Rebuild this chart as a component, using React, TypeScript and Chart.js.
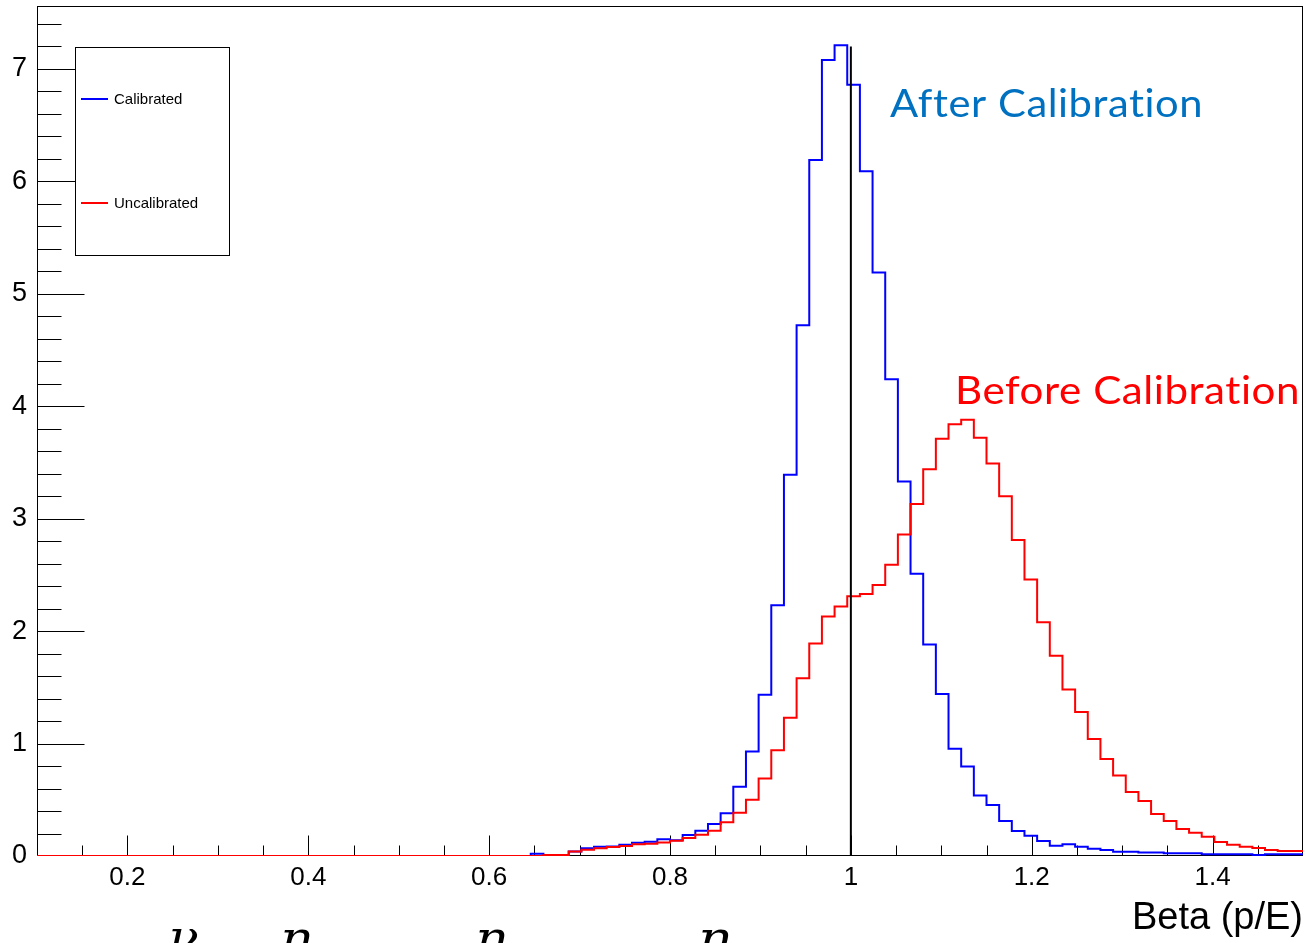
import React, { useEffect, useRef } from 'react';
import { Chart, registerables } from 'chart.js';

Chart.register(...registerables);

// Histogram binning (0.1 .. 1.5, 100 bins)
const X_MIN = 0.1;
const X_MAX = 1.5;
const N_BINS = 100;
const Y_MAX = 7.56;

const xTickLabels = [0.2, 0.4, 0.6, 0.8, 1.0, 1.2, 1.4];
const yTickLabels = [0, 1, 2, 3, 4, 5, 6, 7];

// Bin contents
const calibrated = [
  0, 0, 0, 0, 0, 0, 0, 0, 0, 0,
  0, 0, 0, 0, 0, 0, 0, 0, 0, 0,
  0, 0, 0, 0, 0, 0, 0, 0, 0, 0,
  0, 0, 0, 0, 0, 0, 0, 0, 0, 0.02,
  0.01, 0.01, 0.04, 0.07, 0.083, 0.085, 0.10, 0.118, 0.127, 0.15,
  0.14, 0.187, 0.225, 0.285, 0.38, 0.617, 0.93, 1.435, 2.23, 3.39,
  4.72, 6.19, 7.08, 7.21, 6.86, 6.09, 5.19, 4.24, 3.33, 2.51,
  1.88, 1.44, 0.955, 0.795, 0.537, 0.454, 0.311, 0.222, 0.18, 0.133,
  0.092, 0.104, 0.083, 0.065, 0.053, 0.038, 0.038, 0.032, 0.032, 0.024,
  0.024, 0.024, 0.015, 0.015, 0.015, 0.015, 0.009, 0.015, 0.015, 0.015,
];

const uncalibrated = [
  0, 0, 0, 0, 0, 0, 0, 0, 0, 0,
  0, 0, 0, 0, 0, 0, 0, 0, 0, 0,
  0, 0, 0, 0, 0, 0, 0, 0, 0, 0,
  0, 0, 0, 0, 0, 0, 0, 0, 0, 0,
  0.01, 0.01, 0.04, 0.055, 0.07, 0.08, 0.09, 0.105, 0.11, 0.12,
  0.135, 0.16, 0.19, 0.225, 0.30, 0.385, 0.50, 0.69, 0.94, 1.23,
  1.58, 1.89, 2.13, 2.22, 2.31, 2.33, 2.41, 2.59, 2.86, 3.13,
  3.44, 3.71, 3.84, 3.88, 3.72, 3.49, 3.20, 2.81, 2.46, 2.08,
  1.78, 1.48, 1.28, 1.04, 0.863, 0.715, 0.57, 0.49, 0.374, 0.311,
  0.24, 0.207, 0.172, 0.125, 0.10, 0.083, 0.071, 0.053, 0.044, 0.044,
];

const referenceX = [1.0, 1.0];
const referenceY = [0, 7.2];

const seriesLabels = ['Calibrated', 'Uncalibrated'];
const seriesColors = ['#0000ff', '#ff0000'];

const annotations = [
  { text: 'After Calibration', color: '#0070c0', x: 890, baseline: 117, width: 313 },
  { text: 'Before Calibration', color: '#ff0000', x: 955, baseline: 404, width: 345 },
];

const cutGlyphs = [
  { text: 'ν', x: 172, width: 26 },
  { text: 'η', x: 283, width: 27 },
  { text: 'η', x: 478, width: 27 },
  { text: 'η', x: 701, width: 28 },
];

const binEdges = Array.from({ length: N_BINS + 1 }, (_, i) =>
  +(X_MIN + (i * (X_MAX - X_MIN)) / N_BINS).toFixed(4)
);

function histPoints(values: number[]) {
  const pts = values.map((v, i) => ({ x: binEdges[i], y: v }));
  pts.push({ x: binEdges[N_BINS], y: values[values.length - 1] });
  return pts;
}

const decor = {
  id: 'decor',
  beforeDatasetsDraw(chart: any) {
    const { ctx, chartArea } = chart;
    const xs = chart.scales.x;
    const ys = chart.scales.y;
    ctx.save();
    ctx.strokeStyle = '#000';
    ctx.lineWidth = 1;
    const l = Math.round(chartArea.left) + 0.5;
    const t = Math.round(chartArea.top) + 0.5;
    const r = Math.round(chartArea.right) - 0.5;
    const b = Math.round(chartArea.bottom) - 0.5;
    ctx.strokeRect(l, t, r - l, b - t);
    // y ticks (inside, pointing right)
    for (let i = 1; i * 0.2 <= Y_MAX; i++) {
      const v = i * 0.2;
      const major = Math.abs(v - Math.round(v)) < 1e-6;
      const py = Math.round(ys.getPixelForValue(v)) + 0.5;
      ctx.beginPath();
      ctx.moveTo(l, py);
      ctx.lineTo(l + (major ? 47 : 24), py);
      ctx.stroke();
    }
    // x ticks (inside, pointing up)
    for (let i = 3; i * 0.05 < X_MAX - 1e-6; i++) {
      const v = i * 0.05;
      const major = Math.abs(v * 5 - Math.round(v * 5)) < 1e-6;
      const px = Math.round(xs.getPixelForValue(v)) + 0.5;
      ctx.beginPath();
      ctx.moveTo(px, b);
      ctx.lineTo(px, b - (major ? 20 : 10));
      ctx.stroke();
    }
    ctx.restore();
  },
  afterDraw(chart: any) {
    const { ctx } = chart;
    ctx.save();
    // legend box
    ctx.strokeStyle = '#000';
    ctx.lineWidth = 1;
    ctx.fillStyle = '#fff';
    ctx.fillRect(75.5, 47.5, 154, 208);
    ctx.strokeRect(75.5, 47.5, 154, 208);
    const rows = [99, 203];
    ctx.font = '15px "Liberation Sans", Arial, sans-serif';
    ctx.textBaseline = 'middle';
    ctx.textAlign = 'left';
    chart.data.datasets.slice(0, 2).forEach((ds: any, i: number) => {
      ctx.strokeStyle = ds.borderColor;
      ctx.lineWidth = 2;
      ctx.beginPath();
      ctx.moveTo(81, rows[i]);
      ctx.lineTo(108, rows[i]);
      ctx.stroke();
      ctx.fillStyle = '#000';
      ctx.fillText(ds.label, 114, rows[i] + 1);
    });
    // annotation texts
    ctx.textBaseline = 'alphabetic';
    annotations.forEach((a) => {
      ctx.font = '38px Lato, "Open Sans", sans-serif';
      try { (ctx as any).letterSpacing = '0.5px'; } catch (e) { /* ignore */ }
      const w = ctx.measureText(a.text).width;
      ctx.save();
      ctx.translate(a.x, a.baseline);
      ctx.scale(a.width / w, 1);
      ctx.fillStyle = a.color;
      ctx.fillText(a.text, 0, 0);
      ctx.restore();
    });
    try { (ctx as any).letterSpacing = '0px'; } catch (e) { /* ignore */ }
    // cut-off glyphs at the bottom edge
    cutGlyphs.forEach((g) => {
      ctx.font = 'italic 44px "DejaVu Serif", serif';
      const m = ctx.measureText(g.text);
      const w = m.actualBoundingBoxLeft + m.actualBoundingBoxRight;
      const asc = m.actualBoundingBoxAscent;
      ctx.save();
      ctx.translate(g.x, 929 + asc);
      ctx.scale(g.width / w, 1);
      ctx.fillStyle = '#000';
      ctx.fillText(g.text, m.actualBoundingBoxLeft, 0);
      ctx.restore();
    });
    ctx.restore();
  },
};

export default function App() {
  const ref = useRef<HTMLCanvasElement | null>(null);
  useEffect(() => {
    if (!ref.current) return;
    const chart = new Chart(ref.current, {
      type: 'line',
      data: {
        datasets: [
          {
            label: seriesLabels[0],
            data: histPoints(calibrated),
            borderColor: seriesColors[0],
            backgroundColor: seriesColors[0],
            borderWidth: 2,
            pointRadius: 0,
            stepped: 'before',
            fill: false,
            order: 2,
          },
          {
            label: seriesLabels[1],
            data: histPoints(uncalibrated),
            borderColor: seriesColors[1],
            backgroundColor: seriesColors[1],
            borderWidth: 2,
            pointRadius: 0,
            stepped: 'before',
            fill: false,
            order: 1,
          },
          {
            label: 'reference',
            data: referenceX.map((x, i) => ({ x, y: referenceY[i] })),
            borderColor: '#000',
            borderWidth: 2,
            pointRadius: 0,
            fill: false,
            order: 0,
          },
        ],
      },
      options: {
        responsive: false,
        animation: false,
        devicePixelRatio: 1,
        layout: { padding: { top: 6, right: 3, left: 0, bottom: 0 } },
        plugins: { legend: { display: false }, tooltip: { enabled: false } },
        scales: {
          x: {
            type: 'linear',
            min: X_MIN,
            max: X_MAX,
            grid: { display: false, drawTicks: false },
            border: { display: false },
            afterBuildTicks: (s: any) => {
              s.ticks = xTickLabels.map((v) => ({ value: v }));
            },
            afterFit: (s: any) => {
              s.height = 87;
              s.paddingLeft = 0;
              s.paddingRight = 0;
            },
            ticks: {
              autoSkip: false,
              maxRotation: 0,
              padding: 6,
              color: '#000',
              font: { family: '"Liberation Sans", Arial, sans-serif', size: 26 },
              callback: (v: any) => String(Number(Number(v).toFixed(1))),
            },
            title: {
              display: true,
              text: 'Beta (p/E)',
              align: 'end',
              color: '#000',
              font: { family: '"Liberation Sans", Arial, sans-serif', size: 38 },
              padding: { top: 0, bottom: 2 },
            },
          },
          y: {
            type: 'linear',
            min: 0,
            max: Y_MAX,
            grid: { display: false, drawTicks: false },
            border: { display: false },
            afterBuildTicks: (s: any) => {
              s.ticks = yTickLabels.map((v) => ({ value: v }));
            },
            afterFit: (s: any) => {
              s.width = 37;
              s.paddingTop = 0;
              s.paddingBottom = 0;
            },
            ticks: {
              padding: 10,
              color: '#000',
              font: { family: '"Liberation Sans", Arial, sans-serif', size: 27 },
              callback: (v: any) => String(v),
            },
          },
        },
      },
      plugins: [decor],
    });
    return () => chart.destroy();
  }, []);
  return (
    <div style={{ position: 'fixed', left: 0, top: 0, width: 1306, height: 943, overflow: 'hidden', background: '#fff' }}>
      <canvas ref={ref} width={1306} height={943} style={{ width: 1306, height: 943, display: 'block' }} />
    </div>
  );
}
